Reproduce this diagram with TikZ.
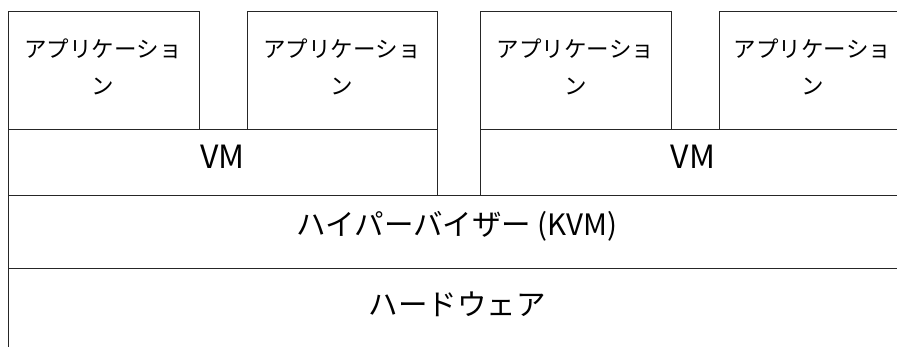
\documentclass[tikz,border=0pt]{standalone}
\usepackage{fontspec}
\setmainfont{Noto Sans CJK JP}
\tikzset{
  box/.style={draw=black!85, line width=1pt, rectangle, inner sep=0pt},
  apptext/.style={align=center, inner sep=0pt, font=\fontsize{22.5}{37}\selectfont},
  bigtext/.style={inner sep=0pt, font=\fontsize{29.5}{34}\selectfont},
  vmtext/.style={inner sep=0pt, font=\fontsize{32}{36}\selectfont},
}
\begin{document}
\begin{tikzpicture}[x=1pt,y=-1pt]
\useasboundingbox (0,0) rectangle (897,347);
\clip (0,0) rectangle (897,347);
% application boxes
\node[box, minimum width=191pt, minimum height=118pt] (app1) at (103.5,71) {};
\node[box, minimum width=190pt, minimum height=118pt] (app2) at (342,71) {};
\node[box, minimum width=191pt, minimum height=118pt] (app3) at (575.5,71) {};
\node[box, minimum width=187pt, minimum height=118pt] (app4) at (812.5,71) {};
% VM boxes
\node[box, minimum width=429pt, minimum height=66pt] (vm1) at (222.5,163) {};
\node[box, minimum width=426pt, minimum height=66pt] (vm2) at (693,163) {};
% hypervisor and hardware
\node[box, minimum width=898pt, minimum height=73pt] (hyp) at (457,232.5) {};
\node[box, minimum width=898pt, minimum height=91pt] (hw) at (457,314.5) {};
% texts
\node[apptext] (t1) at (103,67) {アプリケーショ\\ン};
\node[apptext] (t2) at (342,67) {アプリケーショ\\ン};
\node[apptext] (t3) at (575.5,67) {アプリケーショ\\ン};
\node[apptext] (t4) at (812.5,67) {アプリケーショ\\ン};
\node[vmtext] (tvm1) at (222.5,157) {VM};
\node[vmtext] (tvm2) at (693,157) {VM};
\node[bigtext] (thyp) at (457,226) {ハイパーバイザー (KVM)};
\node[bigtext] (thw) at (457,304) {ハードウェア};
\end{tikzpicture}
\end{document}
